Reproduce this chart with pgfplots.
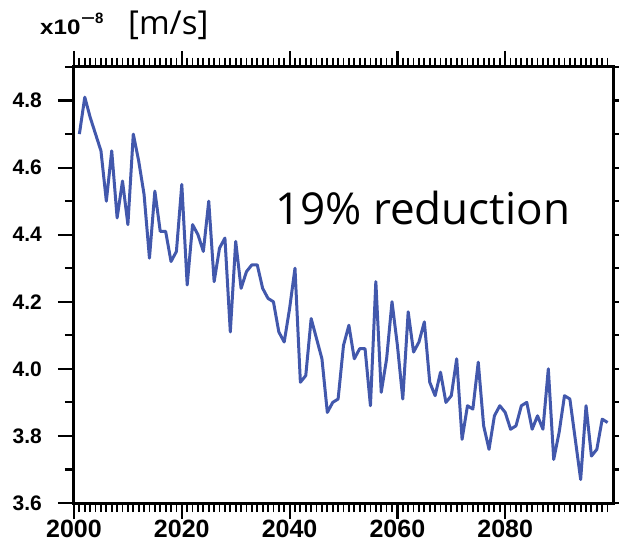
\documentclass[border=0pt]{standalone}
\usepackage{pgfplots}
\pgfplotsset{compat=1.18}
\usepackage{fontspec}
\setmainfont{Liberation Sans}
\newfontfamily\osans{Open Sans}
\definecolor{lineblue}{RGB}{66,88,172}
\pgfplotstableread{
year val
2001 4.70
2002 4.81
2003 4.75
2004 4.70
2005 4.65
2006 4.50
2007 4.65
2008 4.45
2009 4.56
2010 4.43
2011 4.70
2012 4.62
2013 4.52
2014 4.33
2015 4.53
2016 4.41
2017 4.41
2018 4.32
2019 4.35
2020 4.55
2021 4.25
2022 4.43
2023 4.40
2024 4.35
2025 4.50
2026 4.26
2027 4.36
2028 4.39
2029 4.11
2030 4.38
2031 4.24
2032 4.29
2033 4.31
2034 4.31
2035 4.24
2036 4.21
2037 4.20
2038 4.11
2039 4.08
2040 4.18
2041 4.30
2042 3.96
2043 3.98
2044 4.15
2045 4.09
2046 4.03
2047 3.87
2048 3.90
2049 3.91
2050 4.07
2051 4.13
2052 4.03
2053 4.06
2054 4.06
2055 3.89
2056 4.26
2057 3.93
2058 4.03
2059 4.20
2060 4.07
2061 3.91
2062 4.17
2063 4.05
2064 4.08
2065 4.14
2066 3.96
2067 3.92
2068 3.99
2069 3.90
2070 3.92
2071 4.03
2072 3.79
2073 3.89
2074 3.88
2075 4.02
2076 3.83
2077 3.76
2078 3.86
2079 3.89
2080 3.87
2081 3.82
2082 3.83
2083 3.89
2084 3.90
2085 3.82
2086 3.86
2087 3.82
2088 4.00
2089 3.73
2090 3.81
2091 3.92
2092 3.91
2093 3.79
2094 3.67
2095 3.89
2096 3.74
2097 3.76
2098 3.85
2099 3.84
}\datatable
\begin{document}
\begin{tikzpicture}
\begin{axis}[
  scale only axis,
  width=539pt, height=436pt,
  xmin=2000, xmax=2100, ymin=3.6, ymax=4.9,
  xtick={2000,2020,2040,2060,2080},
  minor xtick={2001,2002,...,2099},
  ytick={3.6,3.8,4.0,4.2,4.4,4.6,4.8},
  minor ytick={3.7,3.9,4.1,4.3,4.5,4.7,4.9},
  yticklabels={3.6,3.8,4.0,4.2,4.4,4.6,4.8},
  tick align=outside,
  major tick length=16pt,
  minor tick length=9pt,
  major tick style={line width=2.2pt, black},
  minor tick style={line width=1.8pt, black},
  minor y tick style={line width=2.2pt, black},
  /pgf/number format/assume math mode=true,
  xticklabel style={font=\fontsize{25}{28}\selectfont\bfseries, inner sep=1pt},
  yticklabel style={font=\fontsize{21}{24}\selectfont\bfseries, inner sep=2pt, xshift=-14pt},
  scaled x ticks=false,
  x tick label style={/pgf/number format/.cd, 1000 sep={}},
  clip=true,
  axis line style={line width=3pt},
]
\addplot[lineblue, line width=3pt, line join=round] table[x=year, y=val] {\datatable};
\draw[line width=3pt, black] (rel axis cs:0,0) rectangle (rel axis cs:1,1);
\end{axis}
\node[anchor=base west, inner sep=0] at (-34pt,468pt) {\scalebox{1.15}[1]{\fontsize{21}{24}\selectfont\bfseries x10}};
\node[anchor=base west, inner sep=0] at (7pt,479pt) {\fontsize{15}{16}\selectfont\bfseries \scalebox{1.6}[1]{−}8};
\node[anchor=base west, inner sep=0] at (54pt,468pt) {\osans\fontsize{33}{36}\selectfont [m/s]};
\node[anchor=base west, inner sep=0] at (201pt,278pt) {\osans\fontsize{44}{48}\selectfont 19\% reduction};
\pgfresetboundingbox
\path[use as bounding box] (-74pt,-52pt) rectangle (545pt,503pt);
\end{tikzpicture}
\end{document}
